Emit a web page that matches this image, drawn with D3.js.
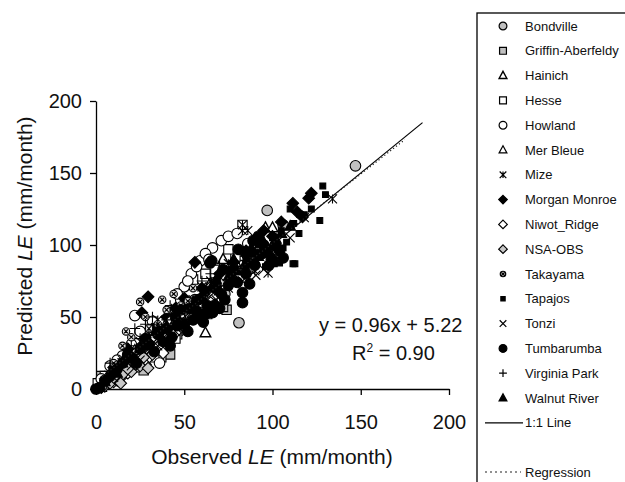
<!DOCTYPE html>
<html>
<head>
<meta charset="utf-8">
<script src="https://cdn.jsdelivr.net/npm/d3@7"></script>
<style>
  body { margin: 0; background: #fff; }
  svg { display: block; font-family: "Liberation Sans", Arial, sans-serif; }
</style>
</head>
<body>
<svg id="chart" width="625" height="482"></svg>
<script>
// observed vs predicted LE (mm/month), one array per site
var bondville = [[147,155],[97,124],[106,114],[81,46],[60,58],[47,40],[32,27],[16,13],[5,4],[2,3],[9,11],[21,17],[68,72],[88,84],[56,62],[38,36],[26,21],[12,8],[73,66],[43,47]];
var griffin = [[74,55],[72,57],[66,59],[53,49],[42,24],[27,13],[33,27],[22,15],[18,17],[10,6],[5,3],[3,9],[46,38],[50,45],[63,52],[30,24],[25,19],[15,11],[7,5],[37,22]];
var hainich = [[96,112],[100,112],[62,39],[72,90],[81,92],[55,60],[41,46],[31,33],[20,23],[12,15],[5,8],[79,88],[48,52],[36,40],[64,72],[26,30]];
var hesse = [[83,114],[79,92],[55,76],[42,49],[35,41],[28,31],[20,25],[12,17],[5,9],[1,4],[62,80],[75,97],[48,57],[58,60],[25,27],[68,74],[45,35],[33,22]];
var howland = [[71,103],[75,106],[80,108],[59,89],[66,98],[22,51],[36,18],[28,36],[41,45],[45,53],[20,31],[15,23],[8,16],[3,7],[54,80],[50,71],[62,94],[86,101],[25,40],[32,47],[48,62],[12,20],[38,30],[57,85],[52,75],[64,90],[46,66]];
var merBleue = [[20,18],[15,14],[10,12],[8,6],[25,24],[30,31],[18,22],[12,8],[5,3],[35,36],[40,38],[3,1],[27,20],[22,27]];
var mize = [[134,132],[97.5,80.5],[90,82],[83,110],[86,110],[83,114],[65,75],[75,87],[55,62],[45,56],[40,41],[30,36],[20,26],[50,59],[78,80],[60,71],[35,48],[25,33],[15,20],[70,78]];
var morganMonroe = [[111.5,129],[122,136],[120.5,132.5],[114,123],[117,119.5],[29.5,64],[26,53],[56,88],[95,110],[100,106],[70,80],[50,63],[40,50],[60,70],[85,96],[32,42],[105,116],[18,28],[45,56],[78,88],[10,15]];
var niwotRidge = [[10,5],[15,9],[20,14],[25,19],[30,22],[35,29],[40,34],[45,39],[50,43],[55,50],[5,2],[28,17],[38,25],[60,64],[42,47],[18,11],[65,60],[33,35],[48,45],[22,20]];
var nsaObs = [[5,2],[8,4],[12,6],[15,10],[20,12],[25,16],[29.5,14.5],[32,24],[18,14],[10,8],[3,1],[22,20],[27,22],[6,6],[14,4]];
var takayama = [[25,60.5],[37.5,62],[44,66],[52,61],[15,30],[20,36],[35,45],[40,55],[10,18],[30,42],[55,70],[48,58],[28,50],[17,40]];
var tapajos = [[128.5,141],[130,135],[126.8,117],[112.7,87],[101,87],[111.6,87],[104,87.5],[95,100],[100,105],[105,110],[108,102],[115,108],[90,95],[98,92],[112,115],[118,121],[85,92],[92,100],[106,98],[96,85],[122,125],[110,125]];
var tonzi = [[90.6,79],[83,75],[75,70],[40,34],[30,28],[20,16],[10,8],[50,47],[60,55],[95,83],[45,40],[25,20],[35,30],[118,119],[110,105],[68,62],[55,52]];
var tumbarumba = [[89,103],[80.6,97],[106,91],[83,60],[65.6,89],[60.8,46.5],[62.6,52.5],[73,62],[83,67],[59,49],[66,53],[64.6,87.5],[88,95],[72,83],[95,100],[85,80],[62,68],[70,56],[55,48],[75,72],[90,86],[100,90],[104,96],[50,45],[45,50],[40,42],[35,38],[30,31],[25,28],[20,22],[15,18],[10,12],[5,6],[0,0],[2,1],[67,58],[58,62],[92,106],[48,55],[38,33],[78,75],[33,26],[23,18],[28,35],[43,36],[53,56],[18,24],[12,14],[8,9],[68,70],[77,82],[86,88],[94,94],[98,86],[102,99],[63,58],[57,54],[71,66],[80,74],[87,73],[52,40],[46,44],[36,40],[42,30]];
var virginiaPark = [[20,30],[25,35],[30,38],[15,21],[10,13],[35,45],[40,48],[45,52],[50,56],[55,61],[18,28],[28,45],[60,75],[65,80],[70,86],[32,50],[22,42],[8,18],[42,58]];
var walnutRiver = [[95,102],[100,100],[98,96],[90,89],[85,95],[75,78],[65,70],[55,58],[45,48],[35,40],[25,28],[15,18],[5,5],[105,108],[80,82],[70,68],[110,113],[88,98],[60,64],[40,44],[30,33],[20,21],[12,11],[92,92],[84,86],[102,104],[78,90],[68,76]];

var xTicks = [0, 50, 100, 150, 200];
var yTicks = [0, 50, 100, 150, 200];

// 1:1 line and fitted regression (y = 0.96x + 5.22)
var oneToOne = [[0,0],[185,185]];
var regression = [[0,5.22],[175,173.22]];
var equationText = "y = 0.96x + 5.22";
var r2Value = "0.90";

var sites = [
  {name: "Bondville",         shape: "circle",   fill: "#c0c0c0", data: bondville},
  {name: "Griffin-Aberfeldy", shape: "square",   fill: "#c0c0c0", data: griffin},
  {name: "Hainich",           shape: "triangle", fill: "#fff",    data: hainich, sw: 1.4},
  {name: "Hesse",             shape: "square",   fill: "#fff",    data: hesse},
  {name: "Howland",           shape: "circle",   fill: "#fff",    data: howland},
  {name: "Mer Bleue",         shape: "triangle", fill: "#fff",    data: merBleue},
  {name: "Mize",              shape: "zhe",      fill: "none",    data: mize},
  {name: "Morgan Monroe",     shape: "diamond",  fill: "#000",    data: morganMonroe},
  {name: "Niwot_Ridge",       shape: "diamond",  fill: "#fff",    data: niwotRidge},
  {name: "NSA-OBS",           shape: "diamond",  fill: "#c8c8c8", data: nsaObs},
  {name: "Takayama",          shape: "xcircle",  fill: "#e0e0e0", data: takayama},
  {name: "Tapajos",           shape: "smallsq",  fill: "#000",    data: tapajos},
  {name: "Tonzi",             shape: "times",    fill: "none",    data: tonzi},
  {name: "Tumbarumba",        shape: "circle",   fill: "#000",    data: tumbarumba},
  {name: "Virginia Park",     shape: "plus",     fill: "none",    data: virginiaPark},
  {name: "Walnut River",      shape: "triangle", fill: "#000",    data: walnutRiver}
];

// marker outlines drawn around 0,0 with half size r
function markerPath(shape, r) {
  var s;
  switch (shape) {
    case "circle":
      return "M" + r + ",0A" + r + "," + r + " 0 1,1 " + (-r) + ",0A" + r + "," + r + " 0 1,1 " + r + ",0Z";
    case "square":
      s = r * 0.88;
      return "M" + (-s) + "," + (-s) + "H" + s + "V" + s + "H" + (-s) + "Z";
    case "smallsq":
      s = r * 0.55;
      return "M" + (-s) + "," + (-s) + "H" + s + "V" + s + "H" + (-s) + "Z";
    case "triangle":
      return "M0," + (-r * 1.1) + "L" + r + "," + (r * 0.75) + "L" + (-r) + "," + (r * 0.75) + "Z";
    case "diamond":
      s = r * 1.1;
      return "M0," + (-s) + "L" + s + ",0L0," + s + "L" + (-s) + ",0Z";
    case "times":
      s = r * 0.85;
      return "M" + (-s) + "," + (-s) + "L" + s + "," + s + "M" + (-s) + "," + s + "L" + s + "," + (-s);
    case "plus":
      s = r;
      return "M" + (-s) + ",0H" + s + "M0," + (-s) + "V" + s;
    case "zhe":
      s = r * 0.85;
      return "M" + (-s) + "," + (-s) + "L" + s + "," + s + "M" + (-s) + "," + s + "L" + s + "," + (-s) + "M0," + (-s) + "V" + s;
    case "xcircle":
      var c = r * 0.7, t = c * 0.55;
      return "M" + c + ",0A" + c + "," + c + " 0 1,1 " + (-c) + ",0A" + c + "," + c + " 0 1,1 " + c + ",0Z" +
        "M" + (-t) + "," + (-t) + "L" + t + "," + t + "M" + (-t) + "," + t + "L" + t + "," + (-t);
  }
}

var svg = d3.select("#chart");

var x = d3.scaleLinear().domain([0, 200]).range([96, 449]);
var y = d3.scaleLinear().domain([0, 200]).range([389, 101]);

// axes
var xAxis = svg.append("g")
  .attr("transform", "translate(0," + y(0) + ")")
  .call(d3.axisBottom(x).tickValues(xTicks).tickSize(6).tickSizeOuter(0).tickPadding(20));
var yAxis = svg.append("g")
  .attr("transform", "translate(" + x(0) + ",0)")
  .call(d3.axisLeft(y).tickValues(yTicks).tickSize(6).tickSizeOuter(0).tickPadding(8));

[xAxis, yAxis].forEach(function (g) {
  g.selectAll("path.domain").attr("stroke", "#000").attr("stroke-width", 1.3);
  g.selectAll(".tick line").attr("stroke", "#000").attr("stroke-width", 1.3);
  g.selectAll(".tick text")
    .attr("fill", "#111")
    .style("font-size", "20px")
    .style("font-family", "'Liberation Sans', Arial, sans-serif");
});

// points
sites.forEach(function (site) {
  svg.append("g").selectAll("path")
    .data(site.data)
    .join("path")
    .attr("transform", function (d) { return "translate(" + x(d[0]) + "," + y(d[1]) + ")"; })
    .attr("d", markerPath(site.shape, 5.3))
    .attr("fill", site.fill)
    .attr("stroke", "#000")
    .attr("stroke-width", site.sw || 1.1);
});

// lines
var line = d3.line().x(function (d) { return x(d[0]); }).y(function (d) { return y(d[1]); });
svg.append("path").datum(oneToOne)
  .attr("d", line).attr("fill", "none").attr("stroke", "#000").attr("stroke-width", 1.2);
svg.append("path").datum(regression)
  .attr("d", line).attr("fill", "none").attr("stroke", "#222")
  .attr("stroke-width", 1.2).attr("stroke-dasharray", "1.2,2.5");

// axis titles
var xTitle = svg.append("text")
  .attr("x", 272).attr("y", 464)
  .attr("text-anchor", "middle")
  .style("font-size", "21px").attr("fill", "#111");
xTitle.append("tspan").text("Observed ");
xTitle.append("tspan").style("font-style", "italic").text("LE");
xTitle.append("tspan").text(" (mm/month)");

var yTitle = svg.append("text")
  .attr("transform", "translate(32,236) rotate(-90)")
  .attr("text-anchor", "middle")
  .style("font-size", "21px").attr("fill", "#111");
yTitle.append("tspan").text("Predicted ");
yTitle.append("tspan").style("font-style", "italic").text("LE");
yTitle.append("tspan").text(" (mm/month)");

// regression equation
svg.append("text")
  .attr("x", 319).attr("y", 332)
  .style("font-size", "20px").attr("fill", "#111")
  .text(equationText);
var r2 = svg.append("text")
  .attr("x", 352).attr("y", 360)
  .style("font-size", "20px").attr("fill", "#111");
r2.append("tspan").text("R");
r2.append("tspan").attr("dy", -8).style("font-size", "12px").text("2");
r2.append("tspan").attr("dy", 8).text(" = " + r2Value);

// legend
var legend = svg.append("g");
legend.append("rect")
  .attr("x", 477).attr("y", 13).attr("width", 200).attr("height", 500)
  .attr("fill", "none").attr("stroke", "#000").attr("stroke-width", 1.3);

var rowY = d3.scaleLinear().domain([0, 1]).range([26, 50.8]);

sites.forEach(function (site, i) {
  var cy = rowY(i);
  legend.append("path")
    .attr("transform", "translate(503," + cy + ")")
    .attr("d", markerPath(site.shape, 3.9))
    .attr("fill", site.fill)
    .attr("stroke", "#000")
    .attr("stroke-width", site.sw || 1.2);
  legend.append("text")
    .attr("x", 525).attr("y", cy + 4.5)
    .style("font-size", "13px").attr("fill", "#111")
    .text(site.name);
});

var lineRow = rowY(sites.length);
legend.append("line")
  .attr("x1", 485).attr("x2", 523).attr("y1", lineRow).attr("y2", lineRow)
  .attr("stroke", "#000").attr("stroke-width", 1.2);
legend.append("text")
  .attr("x", 525).attr("y", lineRow + 4.5)
  .style("font-size", "13px").attr("fill", "#111").text("1:1 Line");

var regRow = 472;
legend.append("line")
  .attr("x1", 485).attr("x2", 521).attr("y1", regRow).attr("y2", regRow)
  .attr("stroke", "#222").attr("stroke-width", 1.1).attr("stroke-dasharray", "2,3");
legend.append("text")
  .attr("x", 525).attr("y", regRow + 4.5)
  .style("font-size", "13px").attr("fill", "#111").text("Regression");
</script>
</body>
</html>
